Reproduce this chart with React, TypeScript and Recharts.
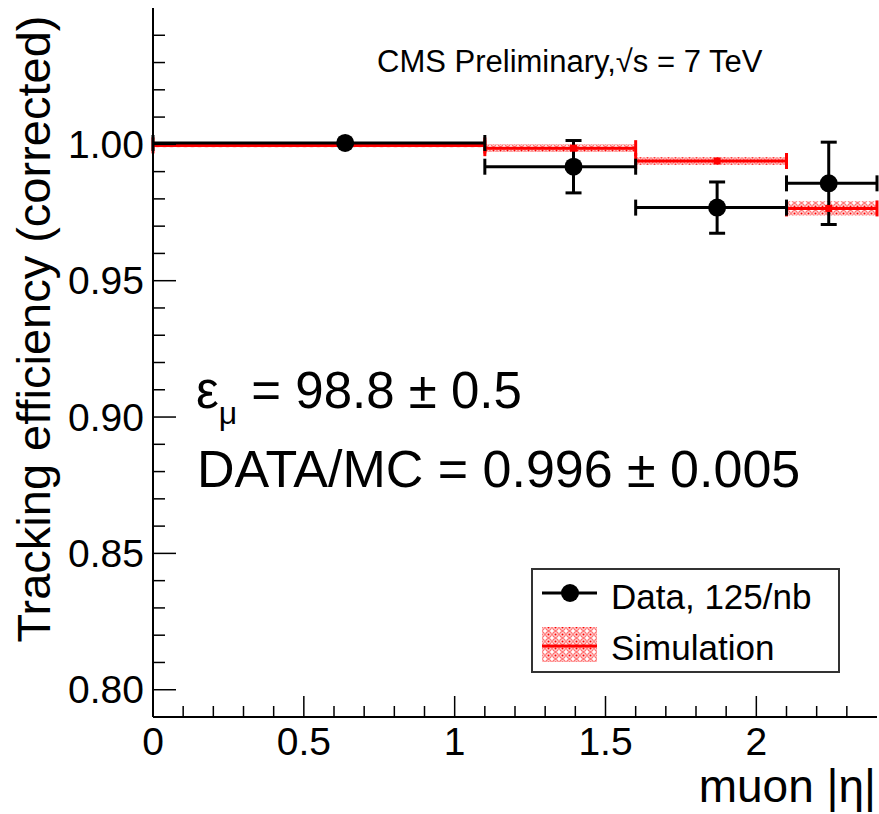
import React from "react";
import { ComposedChart, Scatter, ErrorBar, XAxis, YAxis, ReferenceArea, Legend } from "recharts";

// bins in muon |eta|
const binLow = [0, 1.1, 1.6, 2.1];
const binHigh = [1.1, 1.6, 2.1, 2.4];

// data, 125/nb
const dataX = [0.637, 1.394, 1.87, 2.24];
const dataEff = [1.0005, 0.9918, 0.9768, 0.9857];
const dataErr = [0.0005, 0.0096, 0.0094, 0.0151];

// simulation
const simEff = [0.9996, 0.9986, 0.9939, 0.9765];
const simErr = [0.0007, 0.0014, 0.0014, 0.0026];

const xTicks = [0, 0.1, 0.2, 0.3, 0.4, 0.5, 0.6, 0.7, 0.8, 0.9, 1, 1.1, 1.2, 1.3, 1.4, 1.5, 1.6, 1.7, 1.8, 1.9, 2, 2.1, 2.2, 2.3];
const yTicks = [0.8, 0.81, 0.82, 0.83, 0.84, 0.85, 0.86, 0.87, 0.88, 0.89, 0.9, 0.91, 0.92, 0.93, 0.94, 0.95, 0.96, 0.97, 0.98, 0.99, 1.0, 1.01, 1.02, 1.03, 1.04];
const xLabels = ["0", "0.5", "1", "1.5", "2"];

const FONT = "'Liberation Sans', Arial, Helvetica, sans-serif";

const dataPoints = dataX.map((x, i) => ({
  x,
  y: dataEff[i],
  ex: [x - binLow[i], binHigh[i] - x],
  ey: dataErr[i],
}));

const simPoints = dataX.map((x, i) => ({
  x,
  y: simEff[i],
  ex: [x - binLow[i], binHigh[i] - x],
}));

const isMajor = (v: number, per: number) => Math.abs(v * per - Math.round(v * per)) < 1e-6;

const LeftTick = (props: any) => {
  const { x, y, payload } = props;
  const v = payload.value as number;
  const major = isMajor(v, 20);
  return (
    <g>
      <line x1={x} x2={x + (major ? 23 : 12)} y1={y} y2={y} stroke="#000" strokeWidth={1.5} />
      {major && (
        <text x={x - 9} y={y} dy={13.5} textAnchor="end" fontSize={39} fontFamily={FONT} fill="#000">
          {v.toFixed(2)}
        </text>
      )}
    </g>
  );
};

const RightTick = (props: any) => {
  const { x, y, payload } = props;
  const major = isMajor(payload.value, 20);
  return <line x1={x} x2={x - (major ? 23 : 12)} y1={y} y2={y} stroke="#000" strokeWidth={1.5} />;
};

const BottomTick = (props: any) => {
  const { x, y, payload } = props;
  const v = payload.value as number;
  const major = isMajor(v, 2);
  const label = xLabels.find((l) => Math.abs(parseFloat(l) - v) < 1e-6);
  return (
    <g>
      <line x1={x} x2={x} y1={y} y2={y - (major ? 21 : 11)} stroke="#000" strokeWidth={1.5} />
      {major && label && (
        <text x={x} y={y + 38} textAnchor="middle" fontSize={39} fontFamily={FONT} fill="#000">
          {label}
        </text>
      )}
    </g>
  );
};

const TopTick = (props: any) => {
  const { x, y, payload } = props;
  const major = isMajor(payload.value, 2);
  return <line x1={x} x2={x} y1={y} y2={y + (major ? 21 : 10)} stroke="#000" strokeWidth={1.5} />;
};

const Dot = (props: any) => <circle cx={props.cx} cy={props.cy} r={9} fill="#000" />;
const SimMarker = (props: any) => (
  <rect x={props.cx - 3.5} y={props.cy - 3.5} width={7} height={7} fill="#ff0000" />
);

const Hatch = ({ id }: { id: string }) => (
  <pattern id={id} width={7} height={7} patternUnits="userSpaceOnUse">
    <circle cx={3.5} cy={3.5} r={2.8} fill="none" stroke="#ff6e6e" strokeWidth={1.2} />
    <rect x={2.5} y={2.5} width={2} height={2} fill="#ff0000" />
  </pattern>
);

const LegendBox = () => (
  <svg width={310} height={106} style={{ display: "block" }}>
    <defs>
      <Hatch id="simHatchLegend" />
    </defs>
    <rect x={1} y={1} width={307} height={103} fill="#fff" stroke="#333" strokeWidth={2} />
    <line x1={11} x2={66} y1={25} y2={25} stroke="#000" strokeWidth={3} />
    <circle cx={39} cy={25} r={9} fill="#000" />
    <text x={80} y={41} fontSize={35} fontFamily={FONT} fill="#000">
      Data, 125/nb
    </text>
    <rect x={11} y={59} width={55} height={35} fill="url(#simHatchLegend)" />
    <line x1={11} x2={66} y1={78} y2={78} stroke="#ff0000" strokeWidth={3} />
    <text x={80} y={92} fontSize={35} fontFamily={FONT} fill="#000">
      Simulation
    </text>
  </svg>
);

export default function App() {
  return (
    <div style={{ position: "absolute", left: 0, top: 0, background: "#fff" }}>
      <ComposedChart width={879} height={814} margin={{ top: 8, right: 2, bottom: 0, left: 0 }}>
        <defs>
          <Hatch id="simHatch" />
        </defs>
        <XAxis
          type="number"
          dataKey="x"
          domain={[0, 2.4]}
          allowDataOverflow
          ticks={xTicks}
          interval={0}
          tickSize={0}
          tickMargin={0}
          tick={<BottomTick />}
          height={97}
          axisLine={{ stroke: "#000", strokeWidth: 2 }}
        />
        <XAxis
          xAxisId="top"
          orientation="top"
          type="number"
          domain={[0, 2.4]}
          allowDataOverflow
          ticks={xTicks}
          interval={0}
          tickSize={0}
          tickMargin={0}
          tick={<TopTick />}
          height={0}
          axisLine={{ stroke: "#000", strokeWidth: 2 }}
        />
        <YAxis
          type="number"
          domain={[0.79, 1.05]}
          allowDataOverflow
          ticks={yTicks}
          interval={0}
          tickSize={0}
          tickMargin={0}
          tick={<LeftTick />}
          width={153}
          axisLine={{ stroke: "#000", strokeWidth: 2 }}
        />
        <YAxis
          yAxisId="right"
          orientation="right"
          type="number"
          domain={[0.79, 1.05]}
          allowDataOverflow
          ticks={yTicks}
          interval={0}
          tickSize={0}
          tickMargin={0}
          tick={<RightTick />}
          width={0}
          axisLine={{ stroke: "#000", strokeWidth: 2 }}
        />
        {binLow.map((lo, i) => (
          <ReferenceArea
            key={i}
            x1={lo}
            x2={binHigh[i]}
            y1={simEff[i] - simErr[i]}
            y2={simEff[i] + simErr[i]}
            fill="url(#simHatch)"
            fillOpacity={1}
            stroke="none"
          />
        ))}
        <Scatter data={simPoints} dataKey="y" shape={<SimMarker />} isAnimationActive={false}>
          <ErrorBar dataKey="ex" direction="x" width={8} stroke="#ff0000" strokeWidth={3} isAnimationActive={false} />
        </Scatter>
        <Scatter data={dataPoints} dataKey="y" shape={<Dot />} isAnimationActive={false}>
          <ErrorBar dataKey="ex" direction="x" width={8} stroke="#000" strokeWidth={3} isAnimationActive={false} />
          <ErrorBar dataKey="ey" direction="y" width={8} stroke="#000" strokeWidth={3} isAnimationActive={false} />
        </Scatter>
        <Legend
          layout="vertical"
          align="center"
          verticalAlign="middle"
          wrapperStyle={{ position: "absolute", left: 531, top: 568, width: 310, height: 106 }}
          content={() => <LegendBox />}
        />
        <text x={377} y={72} fontSize={31} fontFamily={FONT} fill="#000">
          CMS Preliminary,√s = 7 TeV
        </text>
        <text x={196} y={408} fontSize={51} fontFamily={FONT} fill="#000">
          ε
          <tspan dy={16} fontSize={32}>μ</tspan>
          <tspan dy={-16} fontSize={51}> = 98.8 ± 0.5</tspan>
        </text>
        <text x={197} y={487} fontSize={52} fontFamily={FONT} fill="#000">
          DATA/MC = 0.996 ± 0.005
        </text>
        <text
          transform="translate(50,329) rotate(-90)"
          textAnchor="middle"
          fontSize={47}
          fontFamily={FONT}
          fill="#000"
        >
          Tracking efficiency (corrected)
        </text>
        <text x={876} y={802} textAnchor="end" fontSize={46} fontFamily={FONT} fill="#000">
          muon |η|
        </text>
      </ComposedChart>
    </div>
  );
}
